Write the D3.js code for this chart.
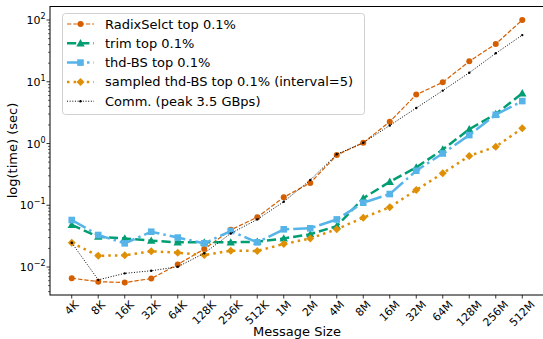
<!DOCTYPE html>
<html>
<head>
<meta charset="utf-8">
<script src="https://cdn.jsdelivr.net/npm/d3@7"></script>
<style>
  body { margin: 0; background: #fff; }
  svg { display: block; font-family: "DejaVu Sans", sans-serif; }
</style>
</head>
<body>
<div id="chart"></div>
<script>
// 消息大小
const sizes = ["4K", "8K", "16K", "32K", "64K", "128K", "256K", "512K", "1M", "2M", "4M", "8M", "16M", "32M", "64M", "128M", "256M", "512M"]

// 各算法耗时 (秒)
const radixSelect = [0.0066, 0.0058, 0.0056, 0.0065, 0.011, 0.0195, 0.040, 0.064, 0.135, 0.23, 0.65, 1.03, 2.25, 6.2, 9.8, 21.4, 41, 100]
const trim = [0.048, 0.031, 0.029, 0.0267, 0.0251, 0.0251, 0.0251, 0.0257, 0.029, 0.034, 0.046, 0.13, 0.24, 0.41, 0.80, 1.70, 3.0, 6.5]
const thdBS = [0.0577, 0.033, 0.0242, 0.0373, 0.030, 0.0242, 0.0383, 0.0251, 0.0408, 0.0424, 0.059, 0.110, 0.152, 0.363, 0.69, 1.37, 2.92, 4.87]
const sampledThdBS = [0.0247, 0.0152, 0.0155, 0.018, 0.0171, 0.0156, 0.0184, 0.0182, 0.0236, 0.029, 0.041, 0.063, 0.093, 0.177, 0.33, 0.63, 0.89, 1.76]
const comm = [0.0247, 0.0062, 0.0079, 0.0087, 0.0101, 0.0167, 0.035, 0.059, 0.114, 0.256, 0.67, 1.03, 1.96, 3.76, 7.2, 14.0, 28.9, 57]

const yTickExps = [-2, -1, 0, 1, 2]

const series = [
  {name: "RadixSelct top 0.1%", values: radixSelect, color: "#D55E00", width: 1.2, dash: "4.4,1.9", marker: "circle", size: 3},
  {name: "trim top 0.1%", values: trim, color: "#029E73", width: 2.5, dash: "9.2,4", marker: "triangle", size: 4.2},
  {name: "thd-BS top 0.1%", values: thdBS, color: "#56B4E9", width: 2.5, dash: "16,4,2.5,4", marker: "square", size: 3.3},
  {name: "sampled thd-BS top 0.1% (interval=5)", values: sampledThdBS, color: "#DE8F05", width: 2.5, dash: "2.5,4.1", marker: "diamond", size: 4},
  {name: "Comm. (peak 3.5 GBps)", values: comm, color: "#000000", width: 1, dash: "1,1.65", marker: "dot", size: 1.2}
]

const width = 543
const height = 339
const margin = {left: 50, right: -1, top: 6, bottom: 44}

const svg = d3.select("#chart").append("svg").attr("width", width).attr("height", height)

// 比例尺
const x = d3.scalePoint().domain(sizes).range([margin.left, width - margin.right]).padding(0.82)
const y = d3.scaleLog().domain([Math.pow(10, -2.453), Math.pow(10, 2.227)]).range([height - margin.bottom, margin.top])

const plotBottom = height - margin.bottom
const plotRight = width - margin.right

// 边框
svg.append("rect")
  .attr("x", margin.left).attr("y", margin.top + 0.5)
  .attr("width", plotRight - margin.left).attr("height", plotBottom - margin.top - 0.5)
  .attr("fill", "none").attr("stroke", "#000").attr("stroke-width", 1)

// y 轴刻度 (主刻度 + 次刻度)
const minor = []
for (let e = -3; e <= 2; e++) {
  for (let m = 2; m <= 9; m++) {
    const v = m * Math.pow(10, e)
    if (v > y.domain()[0] && v < y.domain()[1]) minor.push(v)
  }
}
svg.append("g").selectAll("line").data(minor).enter().append("line")
  .attr("x1", margin.left).attr("x2", margin.left - 2)
  .attr("y1", d => y(d)).attr("y2", d => y(d))
  .attr("stroke", "#000").attr("stroke-width", 0.6)

const yTicks = svg.append("g").selectAll("g").data(yTickExps).enter().append("g")
  .attr("transform", d => `translate(0,${y(Math.pow(10, d))})`)
yTicks.append("line").attr("x1", margin.left).attr("x2", margin.left - 3.5).attr("stroke", "#000").attr("stroke-width", 0.8)
const yText = yTicks.append("text").attr("x", margin.left - 4.5).attr("y", 4)
  .attr("text-anchor", "end").attr("font-size", 11).attr("fill", "#000")
yText.append("tspan").text("10")
yText.append("tspan").attr("dy", -5).attr("font-size", 8).text(d => d < 0 ? "\u2212" + (-d) : d)

// x 轴刻度
const xTicks = svg.append("g").selectAll("g").data(sizes).enter().append("g")
xTicks.append("line")
  .attr("x1", d => x(d)).attr("x2", d => x(d))
  .attr("y1", plotBottom).attr("y2", plotBottom + 3.5)
  .attr("stroke", "#000").attr("stroke-width", 0.8)
xTicks.append("text")
  .attr("font-size", 11).attr("text-anchor", "middle").attr("dominant-baseline", "central")
  .text(d => d)
  .each(function(d) {
    const len = this.getComputedTextLength()
    const h = (len + 11) * Math.SQRT1_2
    d3.select(this).attr("transform", `translate(${x(d)},${plotBottom + 4 + h / 2}) rotate(-45)`)
  })

// 轴标题
svg.append("text").attr("x", (margin.left + 544) / 2).attr("y", 336)
  .attr("text-anchor", "middle").attr("font-size", 13).text("Message Size")
svg.append("text")
  .attr("transform", `translate(17,${(margin.top + plotBottom) / 2}) rotate(-90)`)
  .attr("text-anchor", "middle").attr("font-size", 13).text("log(time) (sec)")

// 标记
function drawMarker(g, s, cx, cy) {
  const r = s.size
  if (s.marker === "circle" || s.marker === "dot") {
    g.append("circle").attr("cx", cx).attr("cy", cy).attr("r", r).attr("fill", s.color)
  } else if (s.marker === "triangle") {
    g.append("path").attr("d", `M${cx},${cy - r}L${cx + r},${cy + r * 0.75}L${cx - r},${cy + r * 0.75}Z`).attr("fill", s.color)
  } else if (s.marker === "square") {
    g.append("rect").attr("x", cx - r).attr("y", cy - r).attr("width", 2 * r).attr("height", 2 * r).attr("fill", s.color)
  } else if (s.marker === "diamond") {
    g.append("path").attr("d", `M${cx},${cy - r}L${cx + r},${cy}L${cx},${cy + r}L${cx - r},${cy}Z`).attr("fill", s.color)
  }
}

// 折线
const line = d3.line().x((d, i) => x(sizes[i])).y(d => y(d))
const plot = svg.append("g")
series.forEach(s => {
  const g = plot.append("g")
  g.append("path").datum(s.values).attr("d", line)
    .attr("fill", "none").attr("stroke", s.color).attr("stroke-width", s.width)
    .attr("stroke-dasharray", s.dash)
  s.values.forEach((v, i) => drawMarker(g, s, x(sizes[i]), y(v)))
})

// 图例
const legend = svg.append("g")
legend.append("rect").attr("x", 62.5).attr("y", 13.5).attr("width", 302).attr("height", 101).attr("rx", 3)
  .attr("fill", "#fff").attr("fill-opacity", 0.8).attr("stroke", "#d0d0d0").attr("stroke-width", 1)
series.forEach((s, i) => {
  const ly = 24 + i * 19.3
  const g = legend.append("g")
  g.append("line").attr("x1", 67).attr("x2", 94).attr("y1", ly).attr("y2", ly)
    .attr("stroke", s.color).attr("stroke-width", s.width).attr("stroke-dasharray", s.dash)
  drawMarker(g, s, 80.5, ly)
  g.append("text").attr("x", 105).attr("y", ly + 4.5).attr("font-size", 13).text(s.name)
})
</script>
</body>
</html>
